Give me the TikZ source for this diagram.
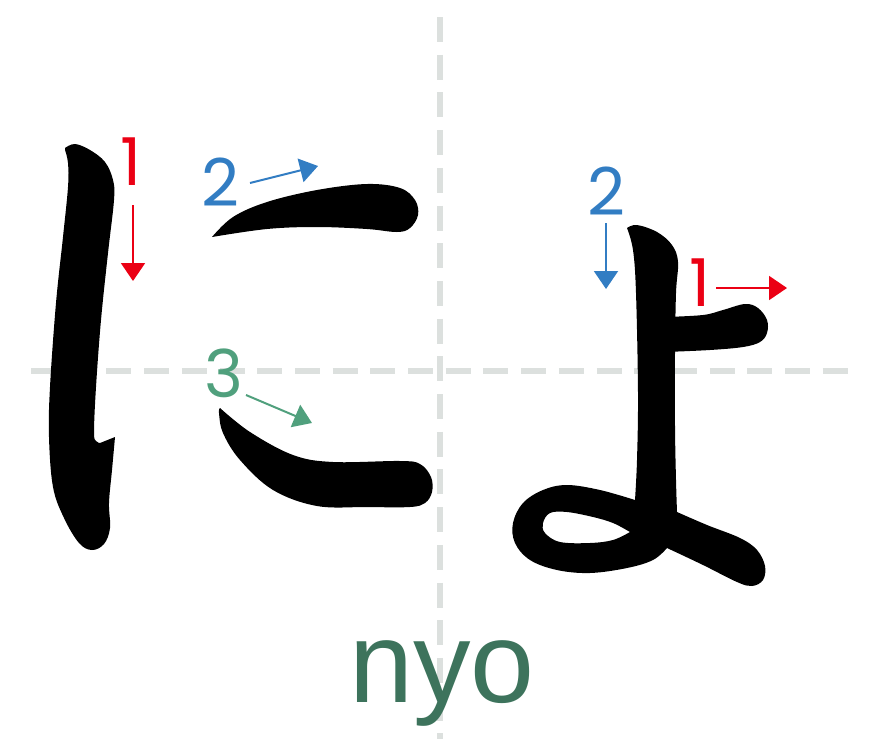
\documentclass[tikz,border=0pt]{standalone}
\usepackage{fontspec}
\setmainfont{Liberation Sans}
\newfontfamily\digitfont{Poppins}
\usetikzlibrary{arrows.meta}
\definecolor{guide}{RGB}{220,224,222}
\definecolor{nred}{RGB}{235,0,20}
\definecolor{nblue}{RGB}{50,125,195}
\definecolor{ngreen}{RGB}{80,160,125}
\definecolor{romaji}{RGB}{61,115,92}
\tikzset{
  guideline/.style={draw=guide, line width=5.5pt, dash pattern=on 25pt off 12.7pt},
  inkstroke/.style={fill=black, draw=none},
  num/.style={inner sep=0pt, font=\digitfont\fontsize{66}{66}\selectfont},
  dirarrow/.style={line width=2pt, -{Triangle[length=18pt,width=24pt]}},
}
\begin{document}
\begin{tikzpicture}[x=1pt,y=-1pt]
\useasboundingbox (0,0) rectangle (880,739);
% guides
\coordinate (vtop) at (440,17);
\coordinate (vbot) at (440,739);
\coordinate (hl) at (31,371);
\coordinate (hr) at (848,371);
\draw[guideline] (vtop) -- (vbot);
\draw[guideline] (hl) -- (hr);
% ni stroke 1
\fill[inkstroke] plot[smooth,tension=.6] coordinates{(65,148) (75,144) (90,150) (105,162) (113,180) (114,200) (108,253) (101,320) (96,387) (94,432) (96,441) (100,443)}
  -- plot[smooth,tension=.6] coordinates{(115,437) (112,470) (109,503) (110,528) (104,544) (92,550) (79,543) (64,518) (53,487) (49,437) (50,387) (56,303) (63,237) (68,187) (68,163) (65,150)} -- cycle;
% ni stroke 2
\fill[inkstroke] plot[smooth,tension=.6] coordinates{(212,237) (233,217) (267,202) (317,190) (367,184) (400,188) (415,200) (418,215) (410,228) (397,232) (367,229) (317,227) (267,229) (212,237)} -- cycle;
% ni stroke 3
\fill[inkstroke] plot[smooth,tension=.6] coordinates{(220,408) (250,432) (293,455) (333,462) (400,461) (420,464) (431,477) (432,492) (425,503) (410,507) (367,507) (317,506) (273,490) (240,460) (223,433) (219,413) (220,408)} -- cycle;
% yo stroke 1
\fill[inkstroke] plot[smooth,tension=.6] coordinates{(665,317) (703,315) (723,310) (745,304) (758,308) (767,320) (767,333) (760,342) (743,347) (710,350) (665,352)} -- cycle;
% yo stroke 2
\fill[inkstroke,even odd rule]
  plot[smooth,tension=.6] coordinates{(627,228) (637,225) (657,232) (672,245) (678,262) (676,293) (675,352) (675,427) (676,480) (677,512)}
  -- plot[smooth,tension=.6] coordinates{(677,512) (707,525) (740,538) (757,550) (765,566) (763,580) (752,586) (737,582) (703,565) (667,548)}
  -- plot[smooth,tension=.6] coordinates{(667,548) (653,560) (627,568) (590,573) (557,570) (530,560) (515,543) (513,523) (523,503) (543,490) (567,485) (600,490) (635,500)}
  -- plot[smooth,tension=.6] coordinates{(635,500) (637,460) (638,393) (636,293) (633,250) (627,228)} -- cycle
  plot[smooth,tension=.6] coordinates{(630,532) (613,540) (590,543) (560,542) (545,533) (543,523) (550,513) (567,512) (593,517) (613,523) (630,532)} -- cycle;
% stroke numbers
\node[num, text=nred] (n1) at (131,162) {1};
\node[num, text=nblue] (n2) at (220,182) {2};
\node[num, text=ngreen] (n3) at (224,373) {3};
\node[num, text=nblue] (y2) at (606,191) {2};
\node[num, text=nred] (y1) at (700,283) {1};
% arrows
\coordinate (a1s) at (133,205); \coordinate (a1e) at (133,281);
\coordinate (a2s) at (250,183); \coordinate (a2e) at (318,166);
\coordinate (a3s) at (246,395); \coordinate (a3e) at (312,423);
\coordinate (b2s) at (606,223); \coordinate (b2e) at (606,289);
\coordinate (b1s) at (716,288); \coordinate (b1e) at (787,288);
\draw[dirarrow, nred] (a1s) -- (a1e);
\draw[dirarrow, nblue] (a2s) -- (a2e);
\draw[dirarrow, ngreen] (a3s) -- (a3e);
\draw[dirarrow, nblue] (b2s) -- (b2e);
\draw[dirarrow, nred] (b1s) -- (b1e);
% romaji
\node[inner sep=0pt, anchor=base, text=romaji, font=\fontsize{115}{115}\selectfont] (rom) at (442,702) {nyo};
\end{tikzpicture}
\end{document}
